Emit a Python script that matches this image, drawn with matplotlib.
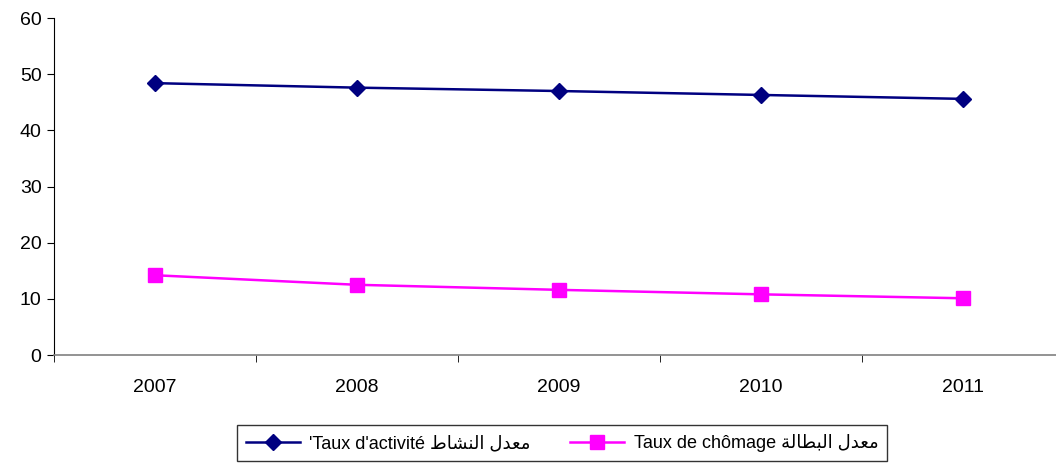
import matplotlib.pyplot as plt
import numpy as np

plt.rcParams['font.family'] = ['Liberation Sans', 'DejaVu Sans']

years = ['2007', '2008', '2009', '2010', '2011']
activite = [48.4, 47.6, 47.0, 46.3, 45.6]
chomage = [14.2, 12.5, 11.6, 10.8, 10.1]

# arabic text in presentation forms, visual order (matplotlib does no shaping)
ar_nashat = '\uFEC1\uFE8E\uFEB8\uFEE8\uFEDF\uFE8D \uFEDD\uFEAA\uFECC\uFEE3'
ar_batala = '\uFE94\uFEDF\uFE8E\uFEC4\uFE92\uFEDF\uFE8D \uFEDD\uFEAA\uFECC\uFEE3'

fig = plt.figure(figsize=(10.56, 4.65), dpi=100)
ax = fig.add_axes([54 / 1056, 110 / 465, 1010 / 1056, 337 / 465])

x = np.arange(len(years))
ax.plot(x, activite, color='#000080', lw=1.8, marker='D', ms=8.5,
        label="'Taux d'activit\u00e9 " + ar_nashat)
ax.plot(x, chomage, color='#FF00FF', lw=1.8, marker='s', ms=10,
        label='Taux de ch\u00f4mage ' + ar_batala)

ax.set_xlim(-0.5, 4.5)
ax.set_ylim(0, 60)
ax.set_yticks(range(0, 61, 10))
ax.set_xticks(x)
ax.set_xticklabels(years)
ax.set_xticks(np.arange(-0.5, 5, 1), minor=True)
ax.tick_params(axis='x', which='major', length=0, pad=17, labelsize=14)
ax.tick_params(axis='x', which='minor', length=5, direction='out')
ax.tick_params(axis='y', length=5, direction='out', labelsize=14, pad=4)

ax.spines['top'].set_visible(False)
ax.spines['right'].set_visible(False)
ax.spines['bottom'].set_color('#808080')
ax.spines['bottom'].set_linewidth(1.2)
ax.spines['left'].set_color('black')

leg = fig.legend(loc='upper left', bbox_to_anchor=(237 / 1056, 1 - 425 / 465),
                 ncol=2, borderaxespad=0, fontsize=13, frameon=True,
                 fancybox=False, edgecolor='black', handlelength=3.0,
                 columnspacing=2.2, borderpad=0.5, handletextpad=0.5)
leg.get_frame().set_linewidth(1.0)

fig.savefig('out.png', dpi=100)
